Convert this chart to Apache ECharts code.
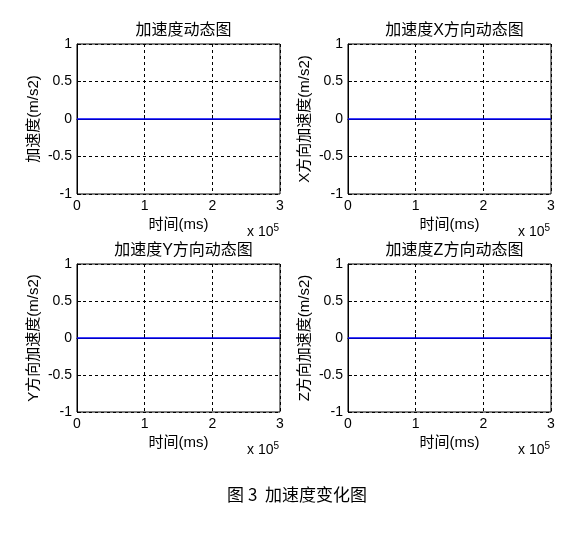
<!DOCTYPE html>
<html>
<head>
<meta charset="utf-8">
<script src="https://cdn.jsdelivr.net/npm/echarts@6/dist/echarts.min.js"></script>
<style>
  html, body { margin: 0; padding: 0; background: #fff; }
  #main { width: 587px; height: 537px; }
</style>
</head>
<body>
<div id="main"></div>
<script>
// subplot titles and y-axis names (MATLAB 2x2 subplot)
var titles = ['加速度动态图', '加速度X方向动态图', '加速度Y方向动态图', '加速度Z方向动态图'];
var yNames = ['加速度(m/s2)', 'X方向加速度(m/s2)', 'Y方向加速度(m/s2)', 'Z方向加速度(m/s2)'];
var xName = '时间(ms)';
var caption = '图 3  加速度变化图';

// time in ms, all acceleration readings are zero
var timeMs = [0, 100000, 200000, 300000];
var accAll = [0, 0, 0, 0];
var accX = [0, 0, 0, 0];
var accY = [0, 0, 0, 0];
var accZ = [0, 0, 0, 0];
var seriesData = [accAll, accX, accY, accZ];

var FONT = '"Liberation Sans", Arial, "Noto Sans CJK SC", sans-serif';

// plot boxes [left, top, width, height]
var boxes = [
    [77, 44, 203, 150],
    [348, 44, 203, 150],
    [77, 264, 203, 148],
    [348, 264, 203, 148]
];

var grids = [], xAxes = [], yAxes = [], series = [], titleList = [], graphics = [];

boxes.forEach(function (b, i) {
    grids.push({
        left: b[0], top: b[1], width: b[2], height: b[3],
        show: true, borderColor: '#000', borderWidth: 1, backgroundColor: '#fff'
    });
    xAxes.push({
        type: 'value', gridIndex: i, min: 0, max: 300000, interval: 100000,
        name: xName, nameLocation: 'middle', nameGap: 23,
        nameTextStyle: { color: '#000', fontSize: 15, fontFamily: FONT },
        axisLine: { show: true, lineStyle: { color: '#000', width: 1 } },
        axisTick: { show: true, inside: true, length: 4, lineStyle: { color: '#000' } },
        axisLabel: {
            color: '#000', fontSize: 14, fontFamily: FONT, margin: 5,
            formatter: function (v) { return String(v / 100000); }
        },
        splitLine: { show: true, lineStyle: { color: '#000', type: [3, 3], width: 1 } }
    });
    yAxes.push({
        type: 'value', gridIndex: i, min: -1, max: 1, interval: 0.5,
        name: yNames[i], nameLocation: 'middle', nameGap: 36,
        nameTextStyle: { color: '#000', fontSize: 15, fontFamily: FONT },
        axisLine: { show: true, lineStyle: { color: '#000', width: 1 } },
        axisTick: { show: true, inside: true, length: 4, lineStyle: { color: '#000' } },
        axisLabel: { color: '#000', fontSize: 14, fontFamily: FONT, margin: 5 },
        // the dashed line at y=0 is hidden under the data line
        splitLine: { show: true, lineStyle: { color: ['#000', '#000', 'rgba(0,0,0,0)', '#000', '#000'], type: [3, 3], width: 1 } }
    });
    series.push({
        type: 'line', xAxisIndex: i, yAxisIndex: i,
        data: timeMs.map(function (t, k) { return [t, seriesData[i][k]]; }),
        symbol: 'none', silent: true,
        lineStyle: { color: '#0000ff', width: 1.3 }
    });
    titleList.push({
        text: titles[i], left: b[0] + b[2] / 2, top: b[1] - 26, textAlign: 'center',
        textStyle: { color: '#000', fontSize: 16, fontWeight: 'normal', fontFamily: FONT }
    });
    // exponent label under the right end of each x axis
    graphics.push({
        type: 'text', left: b[0] + b[2] - 33, top: b[1] + b[3] + 29,
        style: {
            text: 'x 10{sup|5}',
            fill: '#000', fontSize: 14, fontFamily: FONT,
            rich: { sup: { fontSize: 10, verticalAlign: 'top', padding: [0, 0, 9, 0], fontFamily: FONT } }
        }
    });
});

titleList.push({
    text: caption, left: 292, top: 481, textAlign: 'center',
    textStyle: { color: '#000', fontSize: 17, fontWeight: 'normal', fontFamily: '"Noto Sans CJK SC", sans-serif' }
});

var chart = echarts.init(document.getElementById('main'));
chart.setOption({
    animation: false,
    backgroundColor: '#fff',
    title: titleList,
    grid: grids,
    xAxis: xAxes,
    yAxis: yAxes,
    series: series,
    graphic: graphics
});
</script>
</body>
</html>
